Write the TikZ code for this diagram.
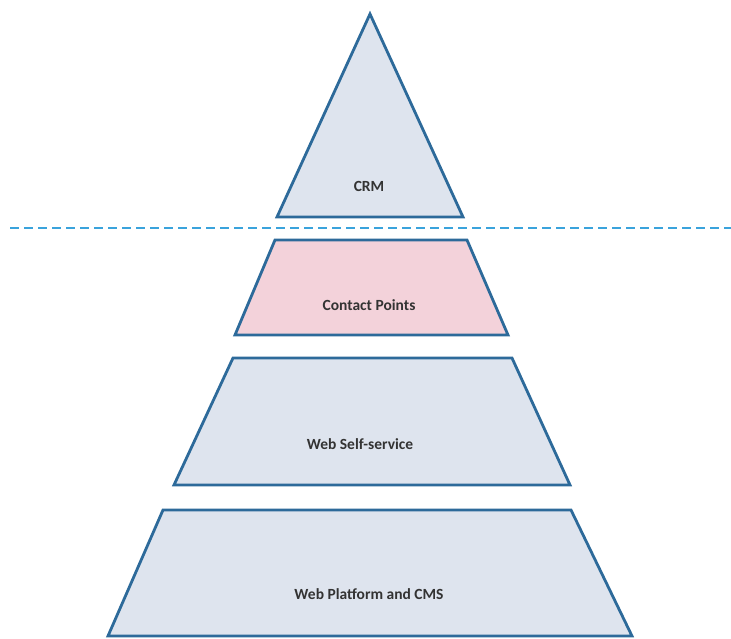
\documentclass[tikz,border=0pt]{standalone}
\usepackage{fontspec}
\setmainfont{Carlito}
\definecolor{tierfill}{HTML}{DEE4EE}
\definecolor{tierpink}{HTML}{F3D2DA}
\definecolor{tieredge}{HTML}{2D6A9A}
\definecolor{splitline}{HTML}{3AA3DC}
\begin{document}
\begin{tikzpicture}[x=1pt,y=-1pt,
  tier/.style={draw=tieredge,line width=2.8pt,line join=miter,fill=tierfill},
  tierlabel/.style={font=\fontsize{15.5}{17}\selectfont\bfseries,text=black!80,inner sep=1pt},
  divider/.style={draw=splitline,line width=2.6pt,dash pattern=on 9pt off 5pt}]
  \useasboundingbox (0,0) rectangle (731,639);
  % apex triangle
  \draw[tier] (370,14) -- (463,217) -- (277,217) -- cycle;
  \node[tierlabel] (crm) at (369,186) {CRM};
  % dashed separator
  \coordinate (sepL) at (10,228);
  \coordinate (sepR) at (731,228);
  \draw[divider] (sepL) -- (sepR);
  % contact points tier
  \draw[tier,fill=tierpink] (275,240) -- (467,240) -- (508,335) -- (235,335) -- cycle;
  \node[tierlabel] (contact) at (369,305) {Contact Points};
  % self-service tier
  \draw[tier] (233,358) -- (512,358) -- (570,485) -- (174,485) -- cycle;
  \node[tierlabel] (self) at (360,444) {Web Self-service};
  % platform tier
  \draw[tier] (163,510) -- (571,510) -- (632,636) -- (108,636) -- cycle;
  \node[tierlabel] (platform) at (369,594) {Web Platform and CMS};
\end{tikzpicture}
\end{document}
